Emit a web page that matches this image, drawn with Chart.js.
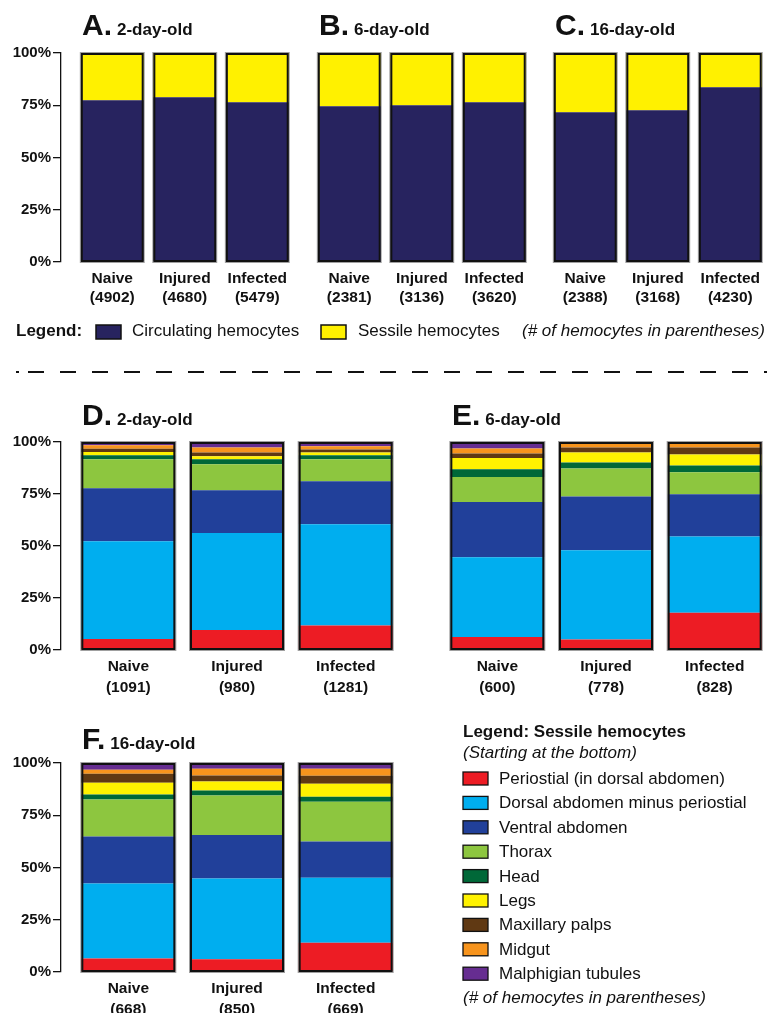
<!DOCTYPE html>
<html>
<head>
<meta charset="utf-8">
<title>Sessile and circulating hemocytes</title>
<script src="https://cdn.jsdelivr.net/npm/chart.js@4.4.1/dist/chart.umd.min.js"></script>
<style>
  html, body { margin: 0; padding: 0; background: #fff; }
  body { width: 771px; height: 1013px; overflow: hidden; position: relative; }
  canvas { position: absolute; }
  svg { position: absolute; left: 0; top: 0; pointer-events: none; }
  svg text { font-family: "Liberation Sans", Arial, sans-serif; fill: #111; }
</style>
</head>
<body>
<canvas id="chartA" width="294" height="271" style="left:0;top:41px"></canvas>
<canvas id="chartB" width="218" height="271" style="left:313px;top:41px"></canvas>
<canvas id="chartC" width="218" height="271" style="left:549px;top:41px"></canvas>
<canvas id="chartD" width="400" height="270" style="left:0;top:430px"></canvas>
<canvas id="chartE" width="326" height="270" style="left:443px;top:430px"></canvas>
<canvas id="chartF" width="400" height="271" style="left:0;top:751px"></canvas>

<svg id="overlay" width="771" height="1013" xmlns="http://www.w3.org/2000/svg">
  <g font-weight="bold">
    <text x="82" y="35"><tspan font-size="30">A.</tspan><tspan font-size="17" dx="5">2-day-old</tspan></text>
    <text x="319" y="35"><tspan font-size="30">B.</tspan><tspan font-size="17" dx="5">6-day-old</tspan></text>
    <text x="555" y="35"><tspan font-size="30">C.</tspan><tspan font-size="17" dx="5">16-day-old</tspan></text>
    <text x="82" y="425"><tspan font-size="30">D.</tspan><tspan font-size="17" dx="5">2-day-old</tspan></text>
    <text x="452" y="425"><tspan font-size="30">E.</tspan><tspan font-size="17" dx="5">6-day-old</tspan></text>
    <text x="82" y="749"><tspan font-size="30">F.</tspan><tspan font-size="17" dx="5">16-day-old</tspan></text>
  </g>
  <g id="topLegend" font-size="17"></g>
  <g id="sideLegend" font-size="17"></g>
  <g id="divider" stroke="#111" stroke-width="2"></g>
</svg>

<script>
// ---- data ----
const groups = ['Naive', 'Injured', 'Infected'];
const yTicks = [0, 25, 50, 75, 100];

// top row: % circulating vs sessile
const countsA = [4902, 4680, 5479];
const countsB = [2381, 3136, 3620];
const countsC = [2388, 3168, 4230];
const circulatingA = [77.4, 78.8, 76.4];
const sessileA = [22.6, 21.2, 23.6];
const circulatingB = [74.5, 75.0, 76.4];
const sessileB = [25.5, 25.0, 23.6];
const circulatingC = [71.7, 72.6, 83.6];
const sessileC = [28.3, 27.4, 16.4];
const stateNames = ['Circulating hemocytes', 'Sessile hemocytes'];
const stateColors = ['#27235f', '#fff100'];

// bottom rows: sessile hemocytes by region, bottom to top (Naive, Injured, Infected)
const regions = ['Periostial (in dorsal abdomen)', 'Dorsal abdomen minus periostial', 'Ventral abdomen',
  'Thorax', 'Head', 'Legs', 'Maxillary palps', 'Midgut', 'Malphigian tubules'];
const regionColors = ['#ed1c24', '#00aeef', '#21409a', '#8dc63f', '#006838', '#fff200', '#603913', '#f7941d', '#662d91'];
const countsD = [1091, 980, 1281];
const countsE = [600, 778, 828];
const countsF = [668, 850, 669];
const regionsD = [
  [5.3, 9.6, 11.8],
  [47.0, 46.7, 48.7],
  [25.5, 20.5, 20.6],
  [13.9, 12.5, 10.6],
  [1.9, 2.4, 1.9],
  [1.6, 1.4, 1.4],
  [1.6, 1.9, 1.4],
  [1.6, 2.4, 1.6],
  [1.6, 2.6, 2.0]
];
const regionsE = [
  [6.2, 5.0, 17.9],
  [38.4, 42.9, 36.7],
  [26.6, 25.9, 20.3],
  [12.0, 13.5, 10.6],
  [3.7, 2.9, 3.2],
  [5.4, 4.8, 5.3],
  [2.2, 2.4, 3.4],
  [2.4, 1.8, 1.8],
  [3.1, 0.8, 0.8]
];
const regionsF = [
  [6.4, 6.1, 14.0],
  [35.9, 38.6, 31.1],
  [22.5, 20.9, 17.3],
  [17.7, 18.8, 19.1],
  [2.4, 2.4, 2.4],
  [5.7, 4.3, 6.2],
  [4.3, 2.9, 3.8],
  [1.9, 3.3, 3.3],
  [3.2, 2.7, 2.8]
];

const FONT = '"Liberation Sans", Arial, sans-serif';
const INK = '#111';

// dark frame round each stacked column
const barOutline = {
  id: 'barOutline',
  afterDatasetsDraw(chart) {
    const ctx = chart.ctx;
    const y = chart.scales.y;
    const top = y.getPixelForValue(100);
    const bottom = y.getPixelForValue(0);
    chart.getDatasetMeta(0).data.forEach(bar => {
      const left = bar.x - bar.width / 2;
      ctx.save();
      ctx.strokeStyle = '#a0a0a0';
      ctx.lineWidth = 1;
      ctx.strokeRect(left - 0.5, top - 0.5, bar.width + 1, bottom - top + 1);
      ctx.strokeStyle = INK;
      ctx.lineWidth = 2;
      ctx.strokeRect(left + 1, top + 1, bar.width - 2, bottom - top - 2);
      ctx.restore();
    });
  }
};

function makeChart(id, counts, series, names, colors, opts) {
  const scales = {
    x: {
      stacked: true,
      offset: true,
      afterFit(s) { s.height = 50; },
      grid: { display: false, drawTicks: false },
      border: { display: false },
      ticks: {
        autoSkip: false,
        maxRotation: 0,
        padding: opts.labelPad,
        color: INK,
        font: { family: FONT, size: 15.5, weight: 'bold', lineHeight: opts.lineHeight }
      }
    },
    y: { min: 0, max: 100, stacked: true, display: false }
  };
  if (opts.axis) {
    scales.y = {
      min: 0, max: 100, stacked: true,
      position: 'left',
      weight: 1,
      afterFit(s) { s.width = 61; },
      afterBuildTicks(s) { s.ticks = yTicks.map(v => ({ value: v })); },
      ticks: {
        padding: 2,
        color: INK,
        callback: v => v + '%',
        font: { family: FONT, size: 15, weight: 'bold' }
      },
      grid: { display: true, drawOnChartArea: false, drawTicks: true, tickLength: 8, color: INK, lineWidth: 1.3 },
      border: { display: true, color: INK, width: 1.3 }
    };
    // empty axis that leaves a gap between the y axis and the first bar
    scales.gap = {
      type: 'linear',
      position: 'left',
      weight: 0,
      afterFit(s) { s.width = opts.gap; },
      ticks: { display: false },
      grid: { display: false },
      border: { display: false }
    };
  }
  return new Chart(document.getElementById(id), {
    type: 'bar',
    data: {
      labels: groups.map((g, i) => [g, '(' + counts[i] + ')']),
      datasets: series.map((d, i) => ({
        label: names[i],
        data: d,
        backgroundColor: colors[i],
        borderWidth: 0,
        barPercentage: opts.barPct,
        categoryPercentage: 1
      }))
    },
    options: {
      responsive: false,
      animation: false,
      layout: { padding: { top: 12, left: 0, right: 0, bottom: 0 } },
      plugins: { legend: { display: false }, tooltip: { enabled: false } },
      scales
    },
    plugins: [barOutline]
  });
}

const topOpts = { barPct: 0.867, lineHeight: '19px', labelPad: 7 };
const lowOpts = { barPct: 0.865, lineHeight: '20.5px', labelPad: 6.5 };

makeChart('chartA', countsA, [circulatingA, sessileA], stateNames, stateColors, Object.assign({ axis: true, gap: 15 }, topOpts));
makeChart('chartB', countsB, [circulatingB, sessileB], stateNames, stateColors, topOpts);
makeChart('chartC', countsC, [circulatingC, sessileC], stateNames, stateColors, topOpts);
makeChart('chartD', countsD, regionsD, regions, regionColors, Object.assign({ axis: true, gap: 13 }, lowOpts));
makeChart('chartE', countsE, regionsE, regions, regionColors, lowOpts);
makeChart('chartF', countsF, regionsF, regions, regionColors, Object.assign({ axis: true, gap: 13 }, lowOpts));

// ---- legends and divider (svg text) ----
const NS = 'http://www.w3.org/2000/svg';
function el(parent, tag, attrs, text) {
  const e = document.createElementNS(NS, tag);
  for (const k in attrs) e.setAttribute(k, attrs[k]);
  if (text) e.textContent = text;
  parent.appendChild(e);
  return e;
}

const topLegend = document.getElementById('topLegend');
el(topLegend, 'text', { x: 16, y: 336, 'font-weight': 'bold' }, 'Legend:');
[[96, 132], [321, 358]].forEach((p, i) => {
  el(topLegend, 'rect', { x: p[0], y: 325, width: 25, height: 14, fill: stateColors[i], stroke: INK, 'stroke-width': 1.5 });
  el(topLegend, 'text', { x: p[1], y: 336 }, stateNames[i]);
});
el(topLegend, 'text', { x: 522, y: 336, 'font-style': 'italic' }, '(# of hemocytes in parentheses)');

const side = document.getElementById('sideLegend');
el(side, 'text', { x: 463, y: 737, 'font-weight': 'bold' }, 'Legend: Sessile hemocytes');
el(side, 'text', { x: 463, y: 758, 'font-style': 'italic' }, '(Starting at the bottom)');
regions.forEach((name, i) => {
  const base = 784 + i * 24.4;
  el(side, 'rect', { x: 463, y: base - 12, width: 25, height: 13, fill: regionColors[i], stroke: INK, 'stroke-width': 1.3 });
  el(side, 'text', { x: 499, y: base }, name);
});
el(side, 'text', { x: 463, y: 1003, 'font-style': 'italic' }, '(# of hemocytes in parentheses)');

const divider = document.getElementById('divider');
el(divider, 'line', { x1: 16, y1: 372, x2: 19, y2: 372 });
el(divider, 'line', { x1: 28, y1: 372, x2: 748, y2: 372, 'stroke-dasharray': '16 16' });
el(divider, 'line', { x1: 764, y1: 372, x2: 767, y2: 372 });
</script>
</body>
</html>
